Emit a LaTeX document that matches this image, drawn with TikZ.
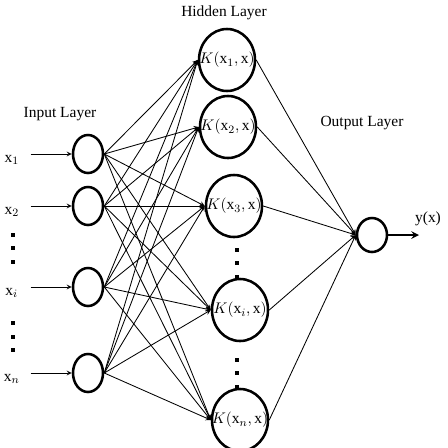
\documentclass[tikz,border=0pt]{standalone}
\usepackage{fontspec}
\setmainfont{Liberation Serif}
\usetikzlibrary{shapes.geometric}
\tikzset{
  innode/.style={draw, ellipse, line width=1.8pt, minimum width=0.75cm, minimum height=0.95cm, inner sep=0pt},
  hidnode/.style={draw, ellipse, line width=1.8pt, minimum width=1.4cm, minimum height=1.55cm, inner sep=0pt},
  outnode/.style={draw, ellipse, line width=1.8pt, minimum width=0.75cm, minimum height=0.85cm, inner sep=0pt},
  wire/.style={->, line width=0.6pt}
}
\begin{document}
\begin{tikzpicture}[>=stealth, x=0.025cm, y=-0.025cm, font=\fontsize{11}{13}\selectfont]
\useasboundingbox (0,0) rectangle (448,448);
% input layer
\node[innode](in1) at (88,154){};
\node[innode](in2) at (88,206){};
\node[innode](ini) at (88,287){};
\node[innode](inn) at (88,373){};
\node(lin) at (60,114){Input Layer};
\foreach \n/\s in {1/1, 2/2, i/i, n/n}{
  \coordinate (s\n) at ([xshift=-41*0.025cm]in\n.west);
  \draw[wire] (s\n) -- (in\n.west);
  \node(x\n) at ([xshift=-60*0.025cm, yshift=-6*0.025cm]in\n.west){$\mathrm{x}_{\s}$};
}
% hidden layer
\node[hidnode, label={center:$K(\mathrm{x}_1,\mathrm{x})$}](h1) at (227,60){};
\node[hidnode, label={center:$K(\mathrm{x}_2,\mathrm{x})$}](h2) at (228,127){};
\node[hidnode, label={center:$K(\mathrm{x}_3,\mathrm{x})$}](h3) at (234,206){};
\node[hidnode, label={center:$K(\mathrm{x}_i,\mathrm{x})$}](hi) at (240,310){};
\node[hidnode, label={center:$K(\mathrm{x}_n,\mathrm{x})$}](hn) at (240,420){};
\node(lhid) at (224,13){Hidden Layer};
% output layer
\node[outnode](out) at (372,235){};
\node(lout) at (362,123){Output Layer};
\coordinate (yend) at (419,235);
\draw[->, line width=1.4pt] (out.east) -- (yend);
\node(yx) at (428,219){y(x)};
% connections
\foreach \a in {in1,in2,ini,inn}
  \foreach \b in {h1,h2,h3,hi,hn}
    \draw[wire] (\a.east) -- (\b.west);
\foreach \b in {h1,h2,h3,hi,hn}
  \draw[wire] (\b.east) -- (out.west);
% dots
\foreach \x/\y in {13/235, 13/248, 13/262, 13/323, 13/337, 13/350,
                   237/250, 237/263, 237/277, 237/360, 237/373, 237/387}
  \fill (\x-1.6,\y-1.6) rectangle +(3.2,3.2);
\end{tikzpicture}
\end{document}
